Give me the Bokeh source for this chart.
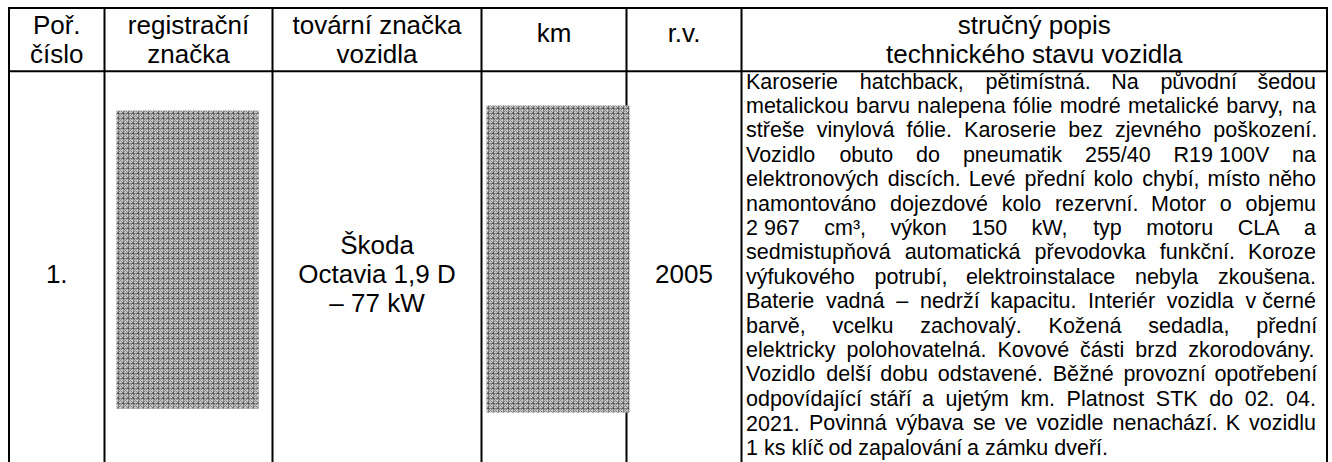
import unicodedata
from bokeh.plotting import figure
from bokeh.models import Range1d
from bokeh.embed import file_html
from bokeh.resources import INLINE
from bokeh.core.properties import value

# ---------------- data (texts of the table) ----------------
header_titles = [
    ["Poř.", "číslo"],
    ["registrační", "značka"],
    ["tovární značka", "vozidla"],
    ["km"],
    ["r.v."],
    ["stručný popis", "technického stavu vozidla"],
]
row_number = ["1."]
brand_lines = ["Škoda", "Octavia 1,9 D", "– 77 kW"]
year_made = ["2005"]
description_lines = [
    "Karoserie hatchback, pětimístná. Na původní šedou",
    "metalickou barvu nalepena fólie modré metalické barvy, na",
    "střeše vinylová fólie. Karoserie bez zjevného poškození.",
    "Vozidlo obuto do pneumatik 255/40 R19\u00a0100V na",
    "elektronových discích. Levé přední kolo chybí, místo něho",
    "namontováno dojezdové kolo rezervní. Motor o objemu",
    "2\u00a0967 cm³, výkon 150 kW, typ motoru CLA a",
    "sedmistupňová automatická převodovka funkční. Koroze",
    "výfukového potrubí, elektroinstalace nebyla zkoušena.",
    "Baterie vadná – nedrží kapacitu. Interiér vozidla v\u00a0černé",
    "barvě, vcelku zachovalý. Kožená sedadla, přední",
    "elektricky polohovatelná. Kovové části brzd zkorodovány.",
    "Vozidlo delší dobu odstavené. Běžné provozní opotřebení",
    "odpovídající stáří a ujetým km. Platnost STK do 02. 04.",
    "2021. Povinná výbava se ve vozidle nenachází. K vozidlu",
    "1 ks klíč od zapalování a zámku dveří.",
]

# ---------------- layout / style ----------------
FONT = "Liberation Sans"
col_edges = [8.5, 104, 272, 481, 626, 741, 1326.5]
table_top = 7.5
header_bottom = 70.7
table_bottom = 480
head_fs = 26
body_fs = 21.5
BASE_SHIFT = 0.37          # renderer places the alphabetic baseline ~0.37 em lower
head_baselines_2 = [34.5, 63.5]
head_baseline_1 = 42
cell_baselines = [254, 283, 312]
desc_left, desc_right = 745.5, 1315.5
desc_first_baseline = 89
desc_step = 24.4
reg_img = (116, 258, 110, 408)   # left, right, top, bottom
km_img = (486, 629, 105, 412)

# Arial / Liberation Sans advance widths (per 1000 em)
W = {' ': 278, ',': 278, '.': 278, '/': 278, '-': 333, ':': 278, ';': 278,
     'A': 667, 'B': 667, 'C': 722, 'D': 722, 'E': 667, 'F': 611, 'G': 778, 'H': 722,
     'I': 278, 'J': 500, 'K': 667, 'L': 556, 'M': 833, 'N': 722, 'O': 778, 'P': 667,
     'Q': 778, 'R': 722, 'S': 667, 'T': 611, 'U': 722, 'V': 667, 'W': 944, 'X': 667,
     'Y': 667, 'Z': 611, 'a': 556, 'b': 556, 'c': 500, 'd': 556, 'e': 556, 'f': 278,
     'g': 556, 'h': 556, 'i': 222, 'j': 222, 'k': 500, 'l': 222, 'm': 833, 'n': 556,
     'o': 556, 'p': 556, 'q': 556, 'r': 333, 's': 500, 't': 278, 'u': 556, 'v': 500,
     'w': 722, 'x': 500, 'y': 500, 'z': 500, '–': 556, '³': 333, '\u00a0': 278}
for d in "0123456789":
    W[d] = 556


def text_width(s, fs):
    tot = 0
    for ch in s:
        if ch in W:
            tot += W[ch]
        else:
            base = unicodedata.normalize("NFD", ch)[0]
            tot += W.get(base, 556)
    return tot * fs / 1000.0


def base(y, fs):
    return y - BASE_SHIFT * fs


p = figure(width=1332, height=462, output_backend="svg", toolbar_location=None,
           x_range=Range1d(0, 1332), y_range=Range1d(462, 0),
           x_axis_type=None, y_axis_type=None, min_border=0)
p.grid.visible = False
p.outline_line_color = None
p.background_fill_color = "white"
p.border_fill_color = "white"

patch_style = dict(fill_color="#c8c8c8", line_color=None, hatch_pattern="criss_cross",
                   hatch_color="#3a3a3a", hatch_alpha=0.5, hatch_scale=5, hatch_weight=1)

# redacted picture area (registration plate)
l, r, t, b = reg_img
p.quad(left=[l], right=[r], top=[t], bottom=[b], **patch_style)

# grid lines of the table
vx = col_edges
p.segment(x0=vx, y0=[table_top - 1] * len(vx), x1=vx, y1=[table_bottom] * len(vx),
          line_color="black", line_width=2)
p.segment(x0=[col_edges[0] - 1] * 2, y0=[table_top, header_bottom],
          x1=[col_edges[-1] + 1] * 2, y1=[table_top, header_bottom],
          line_color="black", line_width=2)

# redacted picture area (km) overlaps the km / r.v. border
l, r, t, b = km_img
p.quad(left=[l], right=[r], top=[t], bottom=[b], **patch_style)

# header texts
hx, hy, ht = [], [], []
for i, lines in enumerate(header_titles):
    cx = (col_edges[i] + col_edges[i + 1]) / 2
    ys = head_baselines_2 if len(lines) == 2 else [head_baseline_1]
    for s, y in zip(lines, ys):
        hx.append(cx); hy.append(base(y, head_fs)); ht.append(s)
p.text(x=hx, y=hy, text=ht, text_align="center", text_baseline="alphabetic",
       text_font=value(FONT), text_font_size=f"{head_fs}px", text_color="black")

# body cells
cx = [(col_edges[0] + col_edges[1]) / 2, (col_edges[4] + col_edges[5]) / 2]
p.text(x=cx, y=[base(cell_baselines[1], head_fs)] * 2, text=row_number + year_made,
       text_align="center", text_baseline="alphabetic",
       text_font=value(FONT), text_font_size=f"{head_fs}px", text_color="black")
bx = [(col_edges[2] + col_edges[3]) / 2] * len(brand_lines)
p.text(x=bx, y=[base(y, head_fs) for y in cell_baselines[:len(brand_lines)]],
       text=brand_lines, text_align="center", text_baseline="alphabetic",
       text_font=value(FONT), text_font_size=f"{head_fs}px", text_color="black")

# justified description
wx, wy, wt = [], [], []
avail = desc_right - desc_left
for k, line in enumerate(description_lines):
    words = line.split(" ")
    widths = [text_width(w, body_fs) for w in words]
    if k == len(description_lines) - 1 or len(words) == 1:
        gap = W[' '] * body_fs / 1000.0
    else:
        gap = (avail - sum(widths)) / (len(words) - 1)
    x = desc_left
    y = base(desc_first_baseline + k * desc_step, body_fs)
    for w, wd in zip(words, widths):
        wx.append(x); wy.append(y); wt.append(w)
        x += wd + gap
p.text(x=wx, y=wy, text=wt, text_align="left", text_baseline="alphabetic",
       text_font=value(FONT), text_font_size=f"{body_fs}px", text_color="black")

open("out.html", "w").write(file_html(p, INLINE))
